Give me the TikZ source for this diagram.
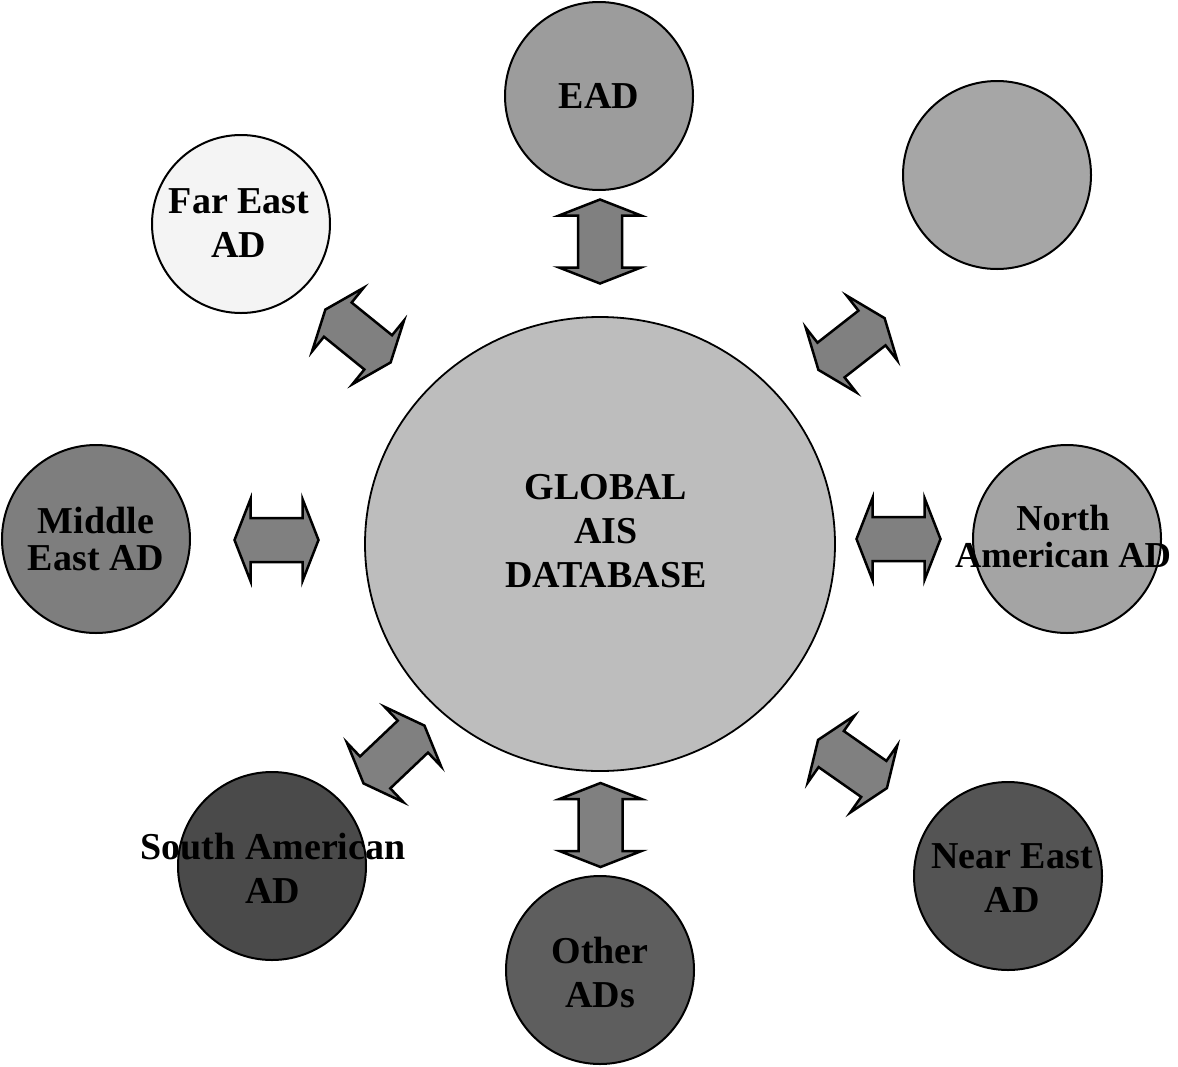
\documentclass[tikz,border=0pt]{standalone}
\usepackage{fontspec}
\setmainfont{Liberation Serif}
\usetikzlibrary{shapes.geometric}
\definecolor{mainc}{HTML}{BDBDBD}
\definecolor{eadc}{HTML}{9C9C9C}
\definecolor{trc}{HTML}{A6A6A6}
\definecolor{fec}{HTML}{F4F4F4}
\definecolor{mec}{HTML}{7E7E7E}
\definecolor{nac}{HTML}{A4A4A4}
\definecolor{sac}{HTML}{4A4A4A}
\definecolor{oac}{HTML}{5E5E5E}
\definecolor{nec}{HTML}{545454}
\definecolor{arrowgrey}{HTML}{808080}
\tikzset{
  sat/.style={circle, draw=black, line width=2pt, minimum size=188pt, inner sep=0pt},
  lbl/.style={font=\bfseries\fontsize{38}{44}\selectfont, align=center, text=black, inner sep=0pt},
  tight/.style={font=\bfseries\fontsize{38}{37}\selectfont},
  arrowfill/.style={fill=arrowgrey, draw=black, line width=2.5pt, line join=miter},
  pics/dbl/.style={code={
    \draw[arrowfill] (42,0)--(26,41)--(26,22)--(-26,22)--(-26,41)--(-42,0)
      --(-26,-41)--(-26,-22)--(26,-22)--(26,-41)--cycle;}}
}
\begin{document}
\begin{tikzpicture}[x=1pt,y=-1pt]
\useasboundingbox[fill=white] (0,0) rectangle (1178,1066);
% central database
\node[ellipse, draw=black, line width=1.8pt, fill=mainc, minimum width=470pt, minimum height=454pt, inner sep=0pt] (main) at (600,544) {};
\node[lbl] (tmain) at (606,531) {GLOBAL\\AIS\\DATABASE};
% satellites
\node[sat, fill=eadc] (ead) at (599,96) {};
\node[lbl] (tead) at (ead.center) {EAD};
\node[sat, fill=trc] (tr) at (997,175) {};
\node[sat, fill=fec, minimum size=178pt] (fe) at (241,224) {};
\node[lbl] (tfe) at (239,223) {Far East\\AD};
\node[sat, fill=mec] (me) at (96,539) {};
\node[lbl, tight] (tme) at (96,539) {Middle\\East AD};
\node[sat, fill=nac] (na) at (1067,539) {};
\node[lbl, font=\bfseries\fontsize{36.5}{37}\selectfont] (tna) at (1063,537) {North\\American AD};
\node[sat, fill=sac] (sa) at (272,866) {};
\node[lbl] (tsa) at (273,868) {South American\\AD};
\node[sat, fill=oac] (oa) at (600,970) {};
\node[lbl] (toa) at (600,972) {Other\\ADs};
\node[sat, fill=nec] (ne) at (1008,876) {};
\node[lbl] (tne) at (1012,878) {Near East\\AD};
% double arrows
\pic[rotate=90] at (600,241.5) {dbl};
\pic[rotate=90] at (600.5,825) {dbl};
\pic at (276.5,540) {dbl};
\pic at (898.5,539) {dbl};
\pic[rotate=-39] at (358,336) {dbl};
\pic[rotate=38] at (851.5,344) {dbl};
\pic[rotate=43.5] at (394,754.5) {dbl};
\pic[rotate=-35] at (852.5,764) {dbl};
\end{tikzpicture}
\end{document}
